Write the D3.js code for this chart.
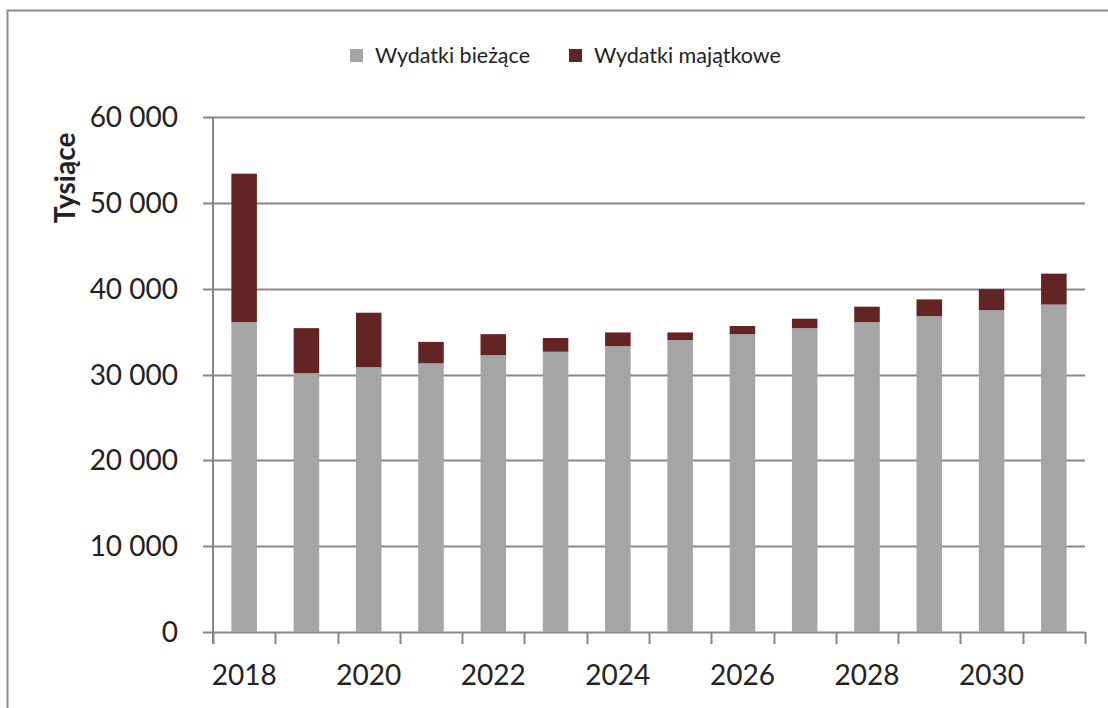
<!DOCTYPE html>
<html>
<head>
<meta charset="utf-8">
<script src="https://cdn.jsdelivr.net/npm/d3@7"></script>
<style>
  body { margin: 0; background: #fff; }
  svg { display: block; font-family: Lato, "Open Sans", sans-serif; }
</style>
</head>
<body>
<svg id="chart" width="1108" height="708"></svg>
<script>
// Data
const years = [2018, 2019, 2020, 2021, 2022, 2023, 2024, 2025, 2026, 2027, 2028, 2029, 2030, 2031];
const biezace = [36100, 30150, 30850, 31300, 32250, 32650, 33300, 34000, 34700, 35400, 36100, 36800, 37500, 38150];
const majatkowe = [17300, 5250, 6350, 2500, 2450, 1600, 1600, 900, 950, 1100, 1800, 1950, 2450, 3600];
const yTicks = [0, 10000, 20000, 30000, 40000, 50000, 60000];
const xLabels = [2018, 2020, 2022, 2024, 2026, 2028, 2030];
const seriesNames = ["Wydatki bieżące", "Wydatki majątkowe"];
const colors = ["#a5a5a5", "#632523"];

const svg = d3.select("#chart");
const W = 1108, H = 708;
const margin = { top: 117, right: 23, bottom: 76, left: 213 };
const width = W - margin.left - margin.right;
const height = H - margin.top - margin.bottom;

// outer frame (cut off right and bottom)
svg.append("rect")
  .attr("x", 7.5).attr("y", 10.5)
  .attr("width", W + 20).attr("height", H + 20)
  .attr("fill", "none")
  .attr("stroke", "#8c8c8c")
  .attr("stroke-width", 2);

const g = svg.append("g")
  .attr("transform", "translate(" + margin.left + "," + margin.top + ")");

// scales
const x = d3.scaleBand().domain(years).range([0, width]).paddingInner(0.59).paddingOuter(0.295);
const y = d3.scaleLinear().domain([0, 60000]).range([height, 0]);

const locale = d3.formatLocale({ decimal: ",", thousands: " ", grouping: [3], currency: ["", " zł"] });
const fmt = locale.format(",d");

const axisColor = "#878787";

// gridlines + y ticks
g.append("g")
  .selectAll("line")
  .data(yTicks)
  .join("line")
  .attr("x1", -10).attr("x2", width)
  .attr("y1", d => Math.round(y(d)) + 0.5)
  .attr("y2", d => Math.round(y(d)) + 0.5)
  .attr("stroke", axisColor)
  .attr("stroke-width", 2);

g.append("g")
  .selectAll("text")
  .data(yTicks)
  .join("text")
  .attr("x", -35)
  .attr("y", d => y(d))
  .attr("dy", "0.36em")
  .attr("text-anchor", "end")
  .attr("font-size", 28)
  .attr("fill", "#222")
  .text(d => fmt(d));

// stacked bars
const rows = years.map((yr, i) => ({ year: yr, biezace: biezace[i], majatkowe: majatkowe[i] }));
const stack = d3.stack().keys(["biezace", "majatkowe"])(rows);

g.append("g")
  .selectAll("g")
  .data(stack)
  .join("g")
  .attr("fill", (d, i) => colors[i])
  .selectAll("rect")
  .data(d => d)
  .join("rect")
  .attr("x", d => x(d.data.year))
  .attr("y", d => y(d[1]))
  .attr("width", x.bandwidth())
  .attr("height", d => y(d[0]) - y(d[1]));

// x axis line and ticks at category boundaries
const step = x.step();
const bounds = d3.range(years.length + 1).map(i => i * step);
g.append("line")
  .attr("x1", 0).attr("x2", 0)
  .attr("y1", 0).attr("y2", height + 12)
  .attr("stroke", axisColor).attr("stroke-width", 2);
g.append("g")
  .selectAll("line")
  .data(bounds)
  .join("line")
  .attr("x1", d => Math.round(d) + 0.5).attr("x2", d => Math.round(d) + 0.5)
  .attr("y1", height).attr("y2", height + 12)
  .attr("stroke", axisColor).attr("stroke-width", 2);

g.append("g")
  .selectAll("text")
  .data(xLabels)
  .join("text")
  .attr("x", d => x(d) + x.bandwidth() / 2)
  .attr("y", height + 53)
  .attr("text-anchor", "middle")
  .attr("font-size", 28)
  .attr("fill", "#222")
  .text(d => d);

// y axis title
svg.append("text")
  .attr("transform", "translate(75,178) rotate(-90)")
  .attr("text-anchor", "middle")
  .attr("font-size", 28)
  .attr("font-weight", "bold")
  .attr("fill", "#222")
  .text("Tysiące");

// legend
const legendX = [350, 569];
const legend = svg.append("g")
  .selectAll("g")
  .data(seriesNames)
  .join("g")
  .attr("transform", (d, i) => "translate(" + legendX[i] + ",49)");
legend.append("rect")
  .attr("width", 13).attr("height", 13)
  .attr("fill", (d, i) => colors[i]);
legend.append("text")
  .attr("x", 25).attr("y", 14)
  .attr("font-size", 21.5)
  .attr("fill", "#222")
  .text(d => d);
</script>
</body>
</html>
